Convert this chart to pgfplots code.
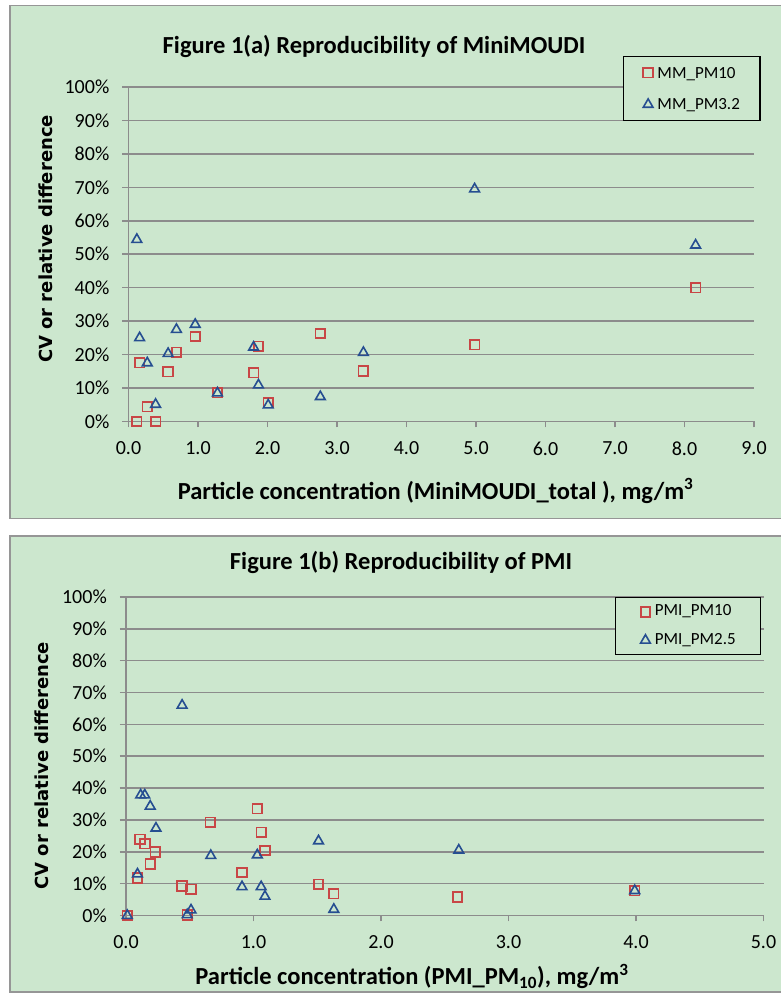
\documentclass[border=0pt]{standalone}
\usepackage{fontspec}
\setmainfont{Carlito}
\newfontfamily\djv{DejaVu Sans}
\usepackage{pgfplots}
\pgfplotsset{compat=1.18}

\definecolor{panelbg}{RGB}{204,231,206}
\definecolor{framegray}{RGB}{150,150,150}
\definecolor{gridgray}{RGB}{140,140,140}
\definecolor{mmred}{RGB}{200,70,70}
\definecolor{mmblue}{RGB}{38,78,145}

\pgfplotsset{
  panel/.style={
    scale only axis, clip=false,
    ymin=0, ymax=100, xmin=0,
    axis x line=bottom, axis y line=left,
    axis line style={-, gridgray, line width=1.6pt},
    ytick={0,10,...,100},
    yticklabel={\pgfmathprintnumber{\tick}\%},
    ymajorgrids, major grid style={gridgray, line width=1.6pt},
    tick align=outside, major tick length=6pt,
    tick style={gridgray, line width=1.6pt},
    /pgf/number format/assume math mode=true,
    xticklabel style={/pgf/number format/fixed, /pgf/number format/fixed zerofill, /pgf/number format/precision=1},
    xticklabel shift=14pt, yticklabel shift=13pt,
    every x tick label/.append style={anchor=north, inner sep=0pt},
    every y tick label/.append style={anchor=east, inner sep=0pt},
    tick label style={font=\fontsize{20}{24}\selectfont, black},
    title style={font=\bfseries\fontsize{24.5}{28}\selectfont, anchor=base},
    xlabel style={font=\bfseries\fontsize{24.5}{28}\selectfont, anchor=base},
    ylabel style={font=\djv\bfseries\fontsize{18}{22}\selectfont, anchor=base},
    legend cell align=left,
  },
  pmten/.style={only marks, mark=square, mark size=4.8pt, line width=1.7pt, mmred,
    legend image code/.code={\draw[mark repeat=2,mark phase=2,##1] plot coordinates {(0pt,0pt)(6pt,0pt)(12pt,0pt)}; \path (14.5pt,0pt);}},
  pmfine/.style={only marks, mark=triangle, mark size=5.6pt, line width=1.6pt, mmblue,
    legend image code/.code={\draw[mark repeat=2,mark phase=2,##1] plot coordinates {(0pt,0pt)(6pt,0pt)(12pt,0pt)}; \path (14.5pt,0pt);}},
}

\begin{document}
\begin{tikzpicture}
\useasboundingbox (0,0) rectangle (781pt,994pt);
\fill[white] (0,0) rectangle (781pt,994pt);
\filldraw[fill=panelbg, draw=framegray, line width=1.5pt] (10pt,475.5pt) rectangle (790pt,988.5pt);
\filldraw[fill=panelbg, draw=framegray, line width=1.5pt] (10pt,2pt) rectangle (790pt,458pt);

% (a) MiniMOUDI
\begin{axis}[panel,
  at={(128.5pt,572.5pt)}, anchor=south west,
  width=625.5pt, height=334.5pt,
  xmax=9, xtick={0,1,...,9},
  title={Figure 1(a) Reproducibility of MiniMOUDI},
  title style={at={(axis description cs:0.3925,1.0807)}},
  xlabel={Particle concentration (MiniMOUDI\_total ), mg/m\textsuperscript{3}},
  xlabel style={at={(axis description cs:0.491,-0.2317)}},
  ylabel={CV or relative difference},
  ylabel style={at={(axis description cs:-0.1215,0.5456)}},
  legend style={at={(0.79,1.0927)}, anchor=north west, draw=black, line width=1.3pt,
    fill=panelbg, inner xsep=20pt, inner ysep=6pt, row sep=11.4pt,
    font=\fontsize{17}{19}\selectfont,
    nodes={inner sep=0pt, text height=15.6pt, text depth=4.7pt}},
]
\addplot[pmten] table {
x y
0.12 0
0.39 0
0.27 4.4
0.16 17.6
0.57 14.9
0.69 20.7
0.96 25.4
1.28 8.6
1.80 14.6
1.87 22.5
2.01 5.6
2.76 26.3
3.38 15.1
4.98 23.0
8.16 40.0
};
\addlegendentry{MM\_PM10}
\addplot[pmfine] table {
x y
0.12 54.4
0.16 25.0
0.27 17.5
0.39 5.1
0.57 20.3
0.69 27.5
0.96 29.0
1.28 8.5
1.80 22.2
1.87 10.9
2.01 4.9
2.76 7.4
3.38 20.6
4.98 69.5
8.16 52.7
};
\addlegendentry{MM\_PM3.2}
\end{axis}

% (b) PMI
\begin{axis}[panel,
  at={(126pt,78.5pt)}, anchor=south west,
  width=637.5pt, height=318.5pt,
  xmax=5, xtick={0,1,...,5},
  title={Figure 1(b) Reproducibility of PMI},
  title style={at={(axis description cs:0.4314,1.069)}},
  xlabel={Particle concentration (PMI\_PM\textsubscript{10}), mg/m\textsuperscript{3}},
  xlabel style={at={(axis description cs:0.4486,-0.216)}},
  ylabel={CV or relative difference},
  ylabel style={at={(axis description cs:-0.1208,0.470)}},
  legend style={at={(0.767,1.0)}, anchor=north west, draw=black, line width=1.3pt,
    fill=panelbg, inner xsep=25pt, inner ysep=4pt, row sep=7.6pt,
    font=\fontsize{17}{19}\selectfont,
    nodes={inner sep=0pt, text height=14.3pt, text depth=6.4pt}},
]
\addplot[pmten] table {
x y
0.01 0
0.09 11.8
0.11 23.9
0.15 22.5
0.19 16.2
0.23 19.9
0.44 9.3
0.48 0.2
0.51 8.2
0.66 29.3
0.91 13.5
1.03 33.5
1.06 26.1
1.09 20.4
1.51 9.8
1.63 6.8
2.60 5.8
3.99 7.8
};
\addlegendentry{PMI\_PM10}
\addplot[pmfine] table {
x y
0.01 0
0.09 13.0
0.115 37.8
0.147 37.8
0.19 34.3
0.235 27.4
0.44 66.0
0.48 0.2
0.51 1.7
0.665 18.8
0.91 9.0
1.03 19.0
1.06 9.0
1.09 6.0
1.51 23.4
1.63 1.9
2.61 20.5
3.99 7.8
};
\addlegendentry{PMI\_PM2.5}
\end{axis}
\end{tikzpicture}
\end{document}
